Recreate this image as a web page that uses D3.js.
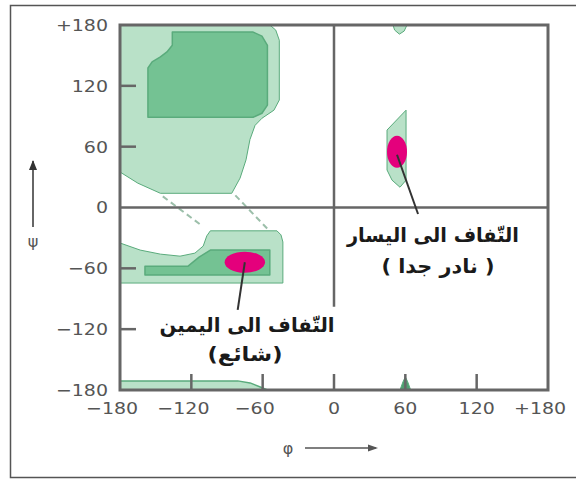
<!DOCTYPE html>
<html><head><meta charset="utf-8">
<script src="https://cdn.jsdelivr.net/npm/d3@7"></script>
<style>html,body{margin:0;padding:0;background:#fff;}svg{display:block;}</style>
</head><body>
<script>
// ---- data (phi, psi in degrees) ----
const phiTicks = [-180,-120,-60,0,60,120,180];
const phiLabels = ["−180","−120","−60","0","60","120","+180"];
const psiTicks = [180,120,60,0,-60,-120,-180];
const psiLabels = ["+180","120","60","0","−60","−120","−180"];
const innerPhiTicks = [-120,-60,0,60,120];
const innerPsiTicks = [120,60,-60,-120];

const betaLight = [[-180,180],[-54,180],[-49,175],[-46,165],[-46,106],[-50.5,96],[-60.6,88],[-66.4,81],[-70.7,67],[-74,47],[-79,29],[-86,14],[-146,14],[-165,24],[-180,35]];
const betaDark = [[-136,173],[-68,173],[-60.6,169],[-56,160],[-56,101],[-60.6,93],[-68,89],[-156.5,89],[-156.5,137.6],[-153,143.6],[-146,148.5],[-140.5,153.4],[-136,160]];
const alphaLight = [[-180,-35],[-163,-42],[-146,-46],[-129.5,-48],[-117,-45],[-110,-38],[-107,-28],[-104,-23],[-48,-23],[-44.6,-27],[-43,-34],[-43,-74.5],[-180,-74.5]];
const alphaDark = [[-159,-58],[-123,-58],[-113.5,-49],[-104,-42],[-54,-42],[-54,-66.5],[-159,-66.5]];
const bottomStrip = [[-180,-171],[-81,-171],[-70.6,-173],[-62,-177],[-56,-180],[-180,-180]];
const topPatch = [[49.6,180],[61.4,180],[59,174],[55,171],[51,175]];
const bottomPatch = [[55.5,-180],[58,-172],[60,-167],[62,-172],[64.5,-180]];
const leftLight = [[60.6,96],[44.6,76.4],[44.6,37],[48.8,27],[55.5,20],[60.6,27]];
const dashed = [[[-144,11],[-111,-18]],[[-83,12],[-56,-21]]];
// helix centres: [phi, psi, rPhi, rPsi]
const helixRight = [-75,-54,17,10.4];
const helixLeft = [53,55,8.4,15.8];
const pointerRight = [[-75,-54],[-81,-101]];
const pointerLeft = [[53,52],[70.7,-6.4]];
const labelRight = ["التّفاف الى اليمين","(شائع)"];
const labelLeft = ["التّفاف الى اليسار","( نادر جدا )"];

// ---- drawing ----
const W=576,H=479;
const svg = d3.select("body").append("svg").attr("width",W).attr("height",H);
const x = d3.scaleLinear([-180,180],[120,548]);
const y = d3.scaleLinear([-180,180],[390,25]);
const line = d3.line().x(d=>x(d[0])).y(d=>y(d[1]));

const LIGHT="#b9e1c8", DARK="#74c293", EDGE="#5aab7c", PINK="#e4007c";

// outer frame
svg.append("rect").attr("x",10.5).attr("y",5.5).attr("width",570).attr("height",472)
  .attr("fill","none").attr("stroke","#555").attr("stroke-width",1.5);

function poly(pts, fill, sw){
  svg.append("path").attr("d", line(pts)+"Z").attr("fill",fill)
    .attr("stroke",EDGE).attr("stroke-width",sw).attr("stroke-linejoin","round");
}
poly(betaLight, LIGHT, 1);
poly(betaDark, DARK, 1.5);
poly(alphaLight, LIGHT, 1);
poly(alphaDark, DARK, 1.5);
poly(bottomStrip, LIGHT, 1.5);
poly(topPatch, LIGHT, 1);
poly(bottomPatch, "#4f9f70", 1);
poly(leftLight, LIGHT, 1);

// helices
[helixRight, helixLeft].forEach(h=>{
  svg.append("ellipse").attr("cx",x(h[0])).attr("cy",y(h[1]))
    .attr("rx",x(h[2])-x(0)).attr("ry",y(0)-y(h[3])).attr("fill",PINK);
});

// dashed lines
dashed.forEach(d=>{
  svg.append("path").attr("d",line(d)).attr("stroke","#9cbfaa").attr("stroke-width",2)
    .attr("stroke-dasharray","6,4").attr("fill","none");
});

// plot frame and zero lines
const AX="#666";
svg.append("rect").attr("x",x(-180)).attr("y",y(180)).attr("width",x(180)-x(-180)).attr("height",y(-180)-y(180))
  .attr("fill","none").attr("stroke",AX).attr("stroke-width",3);
svg.append("line").attr("x1",x(-180)).attr("x2",x(180)).attr("y1",y(0)).attr("y2",y(0))
  .attr("stroke",AX).attr("stroke-width",2.5);
svg.append("line").attr("x1",x(0)).attr("x2",x(0)).attr("y1",y(180)).attr("y2",y(-98))
  .attr("stroke",AX).attr("stroke-width",2.5);

// inner ticks
innerPhiTicks.forEach(t=>{
  svg.append("line").attr("x1",x(t)).attr("x2",x(t)).attr("y1",y(-180)).attr("y2",y(-180)-16)
    .attr("stroke",AX).attr("stroke-width",2.5);
});
innerPsiTicks.forEach(t=>{
  svg.append("line").attr("x1",x(-180)).attr("x2",x(-180)+16).attr("y1",y(t)).attr("y2",y(t))
    .attr("stroke",AX).attr("stroke-width",2.5);
});

// pointers
[pointerRight, pointerLeft].forEach(p=>{
  svg.append("path").attr("d",line(p)).attr("stroke","#333").attr("stroke-width",2).attr("fill","none");
});

// tick labels
const FONT="DejaVu Sans", FS=16.5, SX=1.15;
psiTicks.forEach((t,i)=>{
  svg.append("text").attr("transform",`translate(108,${y(t)}) scale(${SX},1)`)
    .attr("text-anchor","end").attr("dy","0.36em")
    .attr("font-family",FONT).attr("font-size",FS).attr("fill","#555").text(psiLabels[i]);
});
phiTicks.forEach((t,i)=>{
  const digits = phiLabels[i].replace(/[−+]/,"");
  const tmp = svg.append("text").attr("font-family",FONT).attr("font-size",FS).text(digits);
  const w = tmp.node().getComputedTextLength()*SX; tmp.remove();
  svg.append("text").attr("transform",`translate(${x(t)+w/2},${y(-180)+18}) scale(${SX},1)`)
    .attr("text-anchor","end").attr("dy","0.36em")
    .attr("font-family",FONT).attr("font-size",FS).attr("fill","#555").text(phiLabels[i]);
});

// axis symbols & arrows
svg.append("text").attr("x",33).attr("y",241).attr("text-anchor","middle").attr("dy","0.36em")
  .attr("font-family",FONT).attr("font-size",16).attr("fill","#555").text("ψ");
svg.append("line").attr("x1",33).attr("x2",33).attr("y1",227).attr("y2",161).attr("stroke","#333").attr("stroke-width",1.5);
svg.append("path").attr("d","M29,170L33,160L37,170Z").attr("fill","#333");
svg.append("text").attr("x",288).attr("y",448).attr("text-anchor","middle").attr("dy","0.36em")
  .attr("font-family",FONT).attr("font-size",16).attr("fill","#555").text("φ");
svg.append("line").attr("x1",305).attr("x2",376).attr("y1",448).attr("y2",448).attr("stroke","#555").attr("stroke-width",1.5);
svg.append("path").attr("d","M368,444.5L378,448L368,451.5Z").attr("fill","#555");

// Arabic labels
function label(lines, cx1, b1, w1, cx2, b2, w2){
  [[lines[0],cx1,b1,w1],[lines[1],cx2,b2,w2]].forEach(l=>{
    svg.append("text").attr("x",l[1]).attr("y",l[2]).attr("text-anchor","middle")
      .attr("direction","rtl")
      .attr("font-family",FONT).attr("font-size",20).attr("font-weight","bold").attr("fill","#1a1a1a")
      .attr("textLength",l[3]).attr("lengthAdjust","spacingAndGlyphs").text(l[0]);
  });
}
label(labelRight, 247, 332, 175, 245, 361, 75);
label(labelLeft, 433, 242, 172, 438, 273, 113);
</script>
</body></html>
